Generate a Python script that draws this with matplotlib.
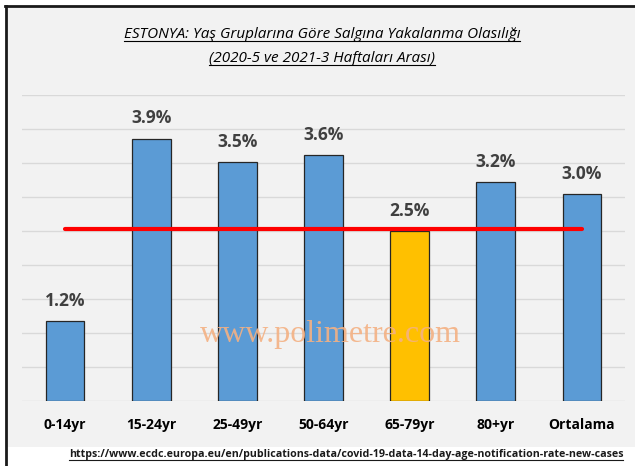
import matplotlib
matplotlib.use('Agg')
import matplotlib.pyplot as plt
from matplotlib.lines import Line2D
from matplotlib.patches import Rectangle

# chart data
groups = ['0-14yr', '15-24yr', '25-49yr', '50-64yr', '65-79yr', '80+yr', 'Ortalama']
rates = [1.18, 3.86, 3.52, 3.62, 2.50, 3.22, 3.04]
average_rate = 2.525
title_lines = ['ESTONYA: Yaş Gruplarına Göre Salgına Yakalanma Olasılığı',
               '(2020-5 ve 2021-3 Haftaları Arası)']
source_url = 'https://www.ecdc.europa.eu/en/publications-data/covid-19-data-14-day-age-notification-rate-new-cases'
watermark = 'www.polimetre.com'

BLUE = '#5b9bd5'
GOLD = '#ffc000'
BG = '#f2f2f2'
FONT = ['Liberation Sans Narrow', 'Open Sans', 'DejaVu Sans']

W, H = 635, 466
fig = plt.figure(figsize=(W / 100, H / 100), dpi=100)
fig.patch.set_facecolor('white')

# grey chart panel with the dark frame on top and left
fig.patches.append(Rectangle((5 / W, 1 - 447 / H), 1, (447 - 5) / H,
                             transform=fig.transFigure, facecolor=BG, edgecolor='none', zorder=-2))
fig.lines.append(Line2D([5 / W, 1], [1 - 6 / H, 1 - 6 / H], transform=fig.transFigure,
                        color='#1a1a1a', linewidth=2, zorder=-1))
fig.lines.append(Line2D([5.5 / W, 5.5 / W], [0, 1 - 6 / H], transform=fig.transFigure,
                        color='#1a1a1a', linewidth=2, zorder=-1))

ax = fig.add_axes([22 / W, 1 - 401 / H, (625 - 22) / W, (401 - 95) / H])
ax.set_facecolor('none')
x = list(range(len(groups)))
colors = [GOLD if g == '65-79yr' else BLUE for g in groups]
bars = ax.bar(x, rates, width=0.45, color=colors, edgecolor='#262626', linewidth=0.9, zorder=3)
ax.plot([x[0], x[-1]], [average_rate, average_rate], color='#ff0000', linewidth=3, zorder=4,
        solid_capstyle='round')

ax.set_xlim(-0.5, len(groups) - 0.5)
ax.set_ylim(0, 4.5)
ax.set_yticks([i * 0.5 for i in range(10)])
ax.yaxis.grid(True, color='#d9d9d9', linewidth=1)
ax.set_axisbelow(True)
ax.tick_params(axis='y', left=False, labelleft=False)
ax.tick_params(axis='x', length=0, pad=12)
ax.set_xticks(x)
ax.set_xticklabels(groups, fontsize=10, fontweight='bold', family=FONT, color='black')
for s in ax.spines.values():
    s.set_visible(False)

for xi, v in zip(x, rates):
    ax.annotate(f'{v:.1f}%', (xi, v), xytext=(0, 8), textcoords='offset points',
                ha='center', va='bottom', fontsize=12.5, fontweight='bold', family=FONT,
                color='#404040')

# watermark
ax.text(0.5 * (len(groups) - 1) + 0.08, 0.87, watermark, ha='center', va='baseline',
        fontsize=23, family=['Liberation Serif', 'DejaVu Serif'], color='#f4b183',
        alpha=0.9, zorder=5)

t1 = fig.text(322 / W, 1 - 34 / H, title_lines[0], ha='center', va='center',
              fontsize=11, style='italic', family=FONT, color='black')
t2 = fig.text(322 / W, 1 - 58 / H, title_lines[1], ha='center', va='center',
              fontsize=11, style='italic', family=FONT, color='black')
t3 = fig.text(346 / W, 1 - 455 / H, source_url, ha='center', va='center',
              fontsize=7.7, fontweight='bold', family=FONT, color='#1a1a1a')

# underline title and source text
fig.canvas.draw()
r = fig.canvas.get_renderer()
for t in [t1, t2, t3]:
    bb = t.get_window_extent(r)
    y = bb.y0 + 1
    fig.lines.append(Line2D([bb.x0 / W, bb.x1 / W], [y / H, y / H], transform=fig.transFigure,
                            color=t.get_color(), linewidth=0.8))

fig.savefig('out.png', dpi=100)
